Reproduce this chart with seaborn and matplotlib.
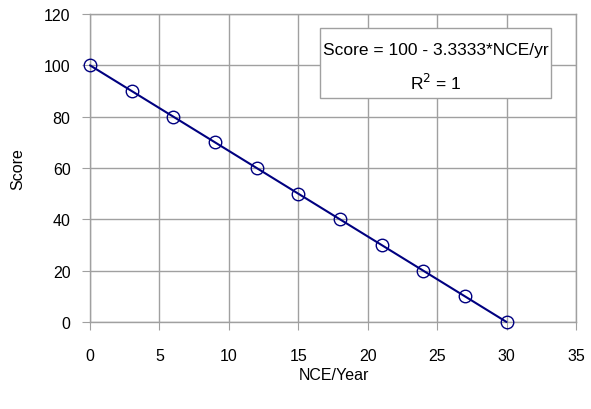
import matplotlib
matplotlib.use("Agg")
import matplotlib.pyplot as plt
from matplotlib.patches import Rectangle
import seaborn as sns
import pandas as pd

nce_per_year = [0, 3, 6, 9, 12, 15, 18, 21, 24, 27, 30]
score = [100, 90, 80, 70, 60, 50, 40, 30, 20, 10, 0]
x_ticks = [0, 5, 10, 15, 20, 25, 30, 35]
y_ticks = [0, 20, 40, 60, 80, 100, 120]

sns.set_style("white")
plt.rcParams['font.family'] = ['Liberation Sans', 'DejaVu Sans']
plt.rcParams['text.color'] = 'black'
plt.rcParams['axes.labelcolor'] = 'black'

df = pd.DataFrame({"NCE/Year": nce_per_year, "Score": score})

W, H = 591, 410
fig = plt.figure(figsize=(W/100, H/100), dpi=100)
ax = fig.add_axes([90/W, 1-323/H, (576-90)/W, (323-15)/H])

sns.lineplot(data=df, x="NCE/Year", y="Score", ax=ax, color="#000080",
             linewidth=1.5, marker="o", markersize=9, markerfacecolor="none",
             markeredgecolor="#000080", markeredgewidth=1.0, zorder=3,
             clip_on=False)

ax.set_xlim(0, 35)
ax.set_ylim(0, 120)
ax.set_xticks(x_ticks)
ax.set_yticks(y_ticks)
ax.grid(True, color="#a0a0a0", linewidth=1.0)
ax.set_axisbelow(True)
for s in ax.spines.values():
    s.set_color("#a0a0a0")
    s.set_linewidth(1.0)
ax.tick_params(axis="x", direction="out", length=6, color="#a0a0a0", pad=13,
               labelsize=11.5, labelcolor="black", bottom=True)
ax.tick_params(axis="y", direction="out", length=6, color="#a0a0a0", pad=8,
               labelsize=11.5, labelcolor="black", left=True)
ax.set_xlabel("NCE/Year", fontsize=11.5, va="center", color="black")
ax.set_ylabel("Score", fontsize=11.5, va="center", color="black")
ax.xaxis.set_label_coords((334-90)/486, (323-375)/308)
ax.yaxis.set_label_coords((18-90)/486, 0.5)

box = Rectangle((320/W, 1-99/H), (551-320)/W, (99-29)/H, transform=fig.transFigure,
                facecolor="white", edgecolor="#a0a0a0", linewidth=1.0, zorder=5)
fig.patches.append(box)
fig.text(435.5/W, 1-51/H, "Score = 100 - 3.3333*NCE/yr", ha="center", va="center",
         fontsize=12.5, zorder=6, color="black")
fig.text(435.5/W, 1-83/H, "R$^2$ = 1", ha="center", va="center",
         fontsize=12.5, zorder=6, color="black")

fig.savefig("out.png", dpi=100)
